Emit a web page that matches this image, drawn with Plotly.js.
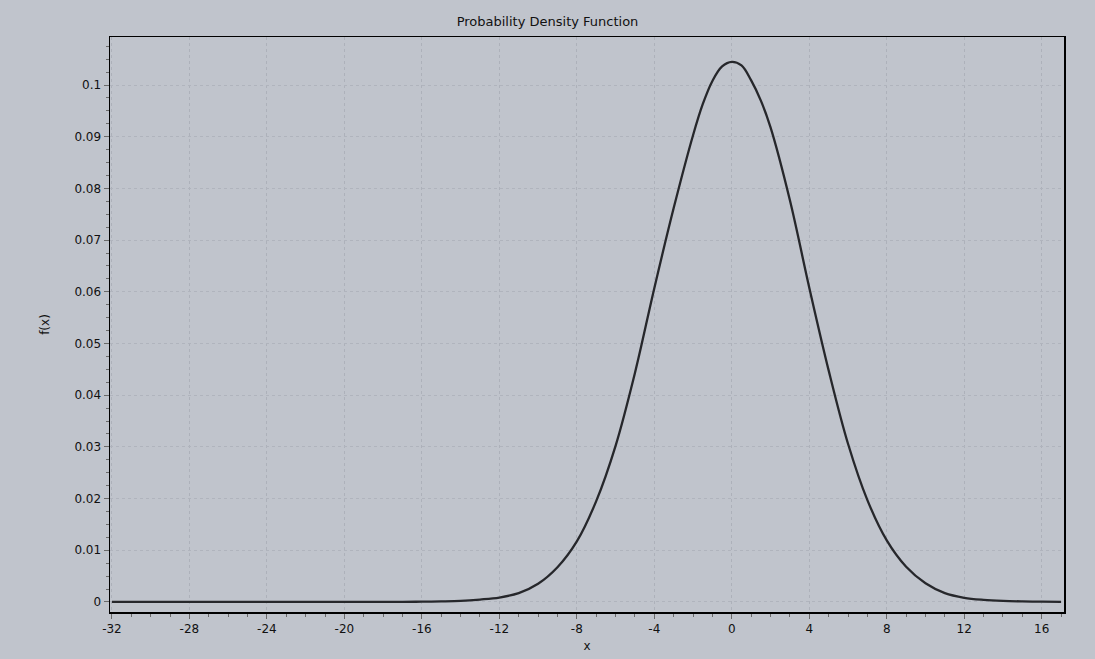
<!DOCTYPE html>
<html>
<head>
<meta charset="utf-8">
<script src="https://cdn.plot.ly/plotly-3.0.1.min.js"></script>
<style>html,body{margin:0;padding:0;background:#c0c4cc;}</style>
</head>
<body>
<div id="chart" style="width:1095px;height:659px;"></div>
<script>
// Values
const xValues = [-32, -28, -24, -20, -17, -16, -15, -14, -13, -12, -11, -10, -9, -8, -7, -6, -5, -4, -3, -2, -1.5, -1, -0.5, 0, 0.5, 1, 1.5, 2, 3, 4, 5, 6, 7, 8, 9, 10, 11, 12, 13, 14, 15, 16, 17];
const fValues = [0, 0, 0, 0, 0, 0.00005, 0.0001, 0.0002, 0.00046, 0.00085, 0.0017, 0.0035, 0.0067, 0.0117, 0.0195, 0.0302, 0.0443, 0.0607, 0.0762, 0.0903, 0.0963, 0.1008, 0.1036, 0.1045, 0.1038, 0.1009, 0.0970, 0.0918, 0.0777, 0.0608, 0.0448, 0.0306, 0.0197, 0.0119, 0.0068, 0.0036, 0.0017, 0.0008, 0.0004, 0.0002, 0.0001, 0.00005, 0];
const xTickVals = [-32, -28, -24, -20, -16, -12, -8, -4, 0, 4, 8, 12, 16];
const xTickText = ["-32", "-28", "-24", "-20", "-16", "-12", "-8", "-4", "0", "4", "8", "12", "16"];
const chartTitle = "Probability Density Function";
const xTitle = "x";
const yTitle = "f(x)";

const bg = "#c0c4cc";
const font = {family: "DejaVu Sans, Liberation Sans, sans-serif", size: 12, color: "#111"};

const trace = {
  x: xValues, y: fValues, type: "scatter", mode: "lines",
  line: {color: "#26272b", width: 2.3, shape: "spline", smoothing: 1},
  hoverinfo: "skip"
};

const layout = {
  width: 1095, height: 659,
  paper_bgcolor: bg, plot_bgcolor: bg,
  margin: {l: 110, r: 31, t: 37, b: 47, pad: 0},
  font: font,
  showlegend: false,
  title: {text: chartTitle, x: 0.5, xanchor: "center", y: 0.968, yanchor: "middle", font: {family: font.family, size: 13, color: "#111"}},
  xaxis: {
    range: [-32.1, 17.15], tickmode: "array", tickvals: xTickVals, ticktext: xTickText,
    showline: true, linecolor: "#000", linewidth: 1.5, mirror: true,
    ticks: "outside", ticklen: 5, tickcolor: "#6a6a6a", tickwidth: 1,
    showgrid: true, gridcolor: "#adb1ba", griddash: "dot", gridwidth: 1,
    zeroline: false,
    minor: {tick0: -32, dtick: 1, ticks: "outside", ticklen: 3, tickcolor: "#6a6a6a", showgrid: false},
    tickfont: {family: font.family, size: 12, color: "#111"},
    title: {text: xTitle, standoff: 6, font: {family: font.family, size: 12, color: "#111"}}
  },
  yaxis: {
    range: [-0.00195, 0.1093], tick0: 0, dtick: 0.01,
    showline: true, linecolor: "#000", linewidth: 1.5, mirror: true,
    ticks: "outside", ticklen: 5, tickcolor: "#6a6a6a", tickwidth: 1,
    showgrid: true, gridcolor: "#b0b4bd", griddash: "dot", gridwidth: 1,
    zeroline: false,
    minor: {dtick: 0.0025, ticks: "outside", ticklen: 3, tickcolor: "#6a6a6a", showgrid: false},
    tickfont: {family: font.family, size: 12, color: "#111"},
    title: {text: yTitle, standoff: 22, font: {family: font.family, size: 12, color: "#111"}}
  }
};

Plotly.newPlot("chart", [trace], layout, {displayModeBar: false, staticPlot: true});
</script>
</body>
</html>
